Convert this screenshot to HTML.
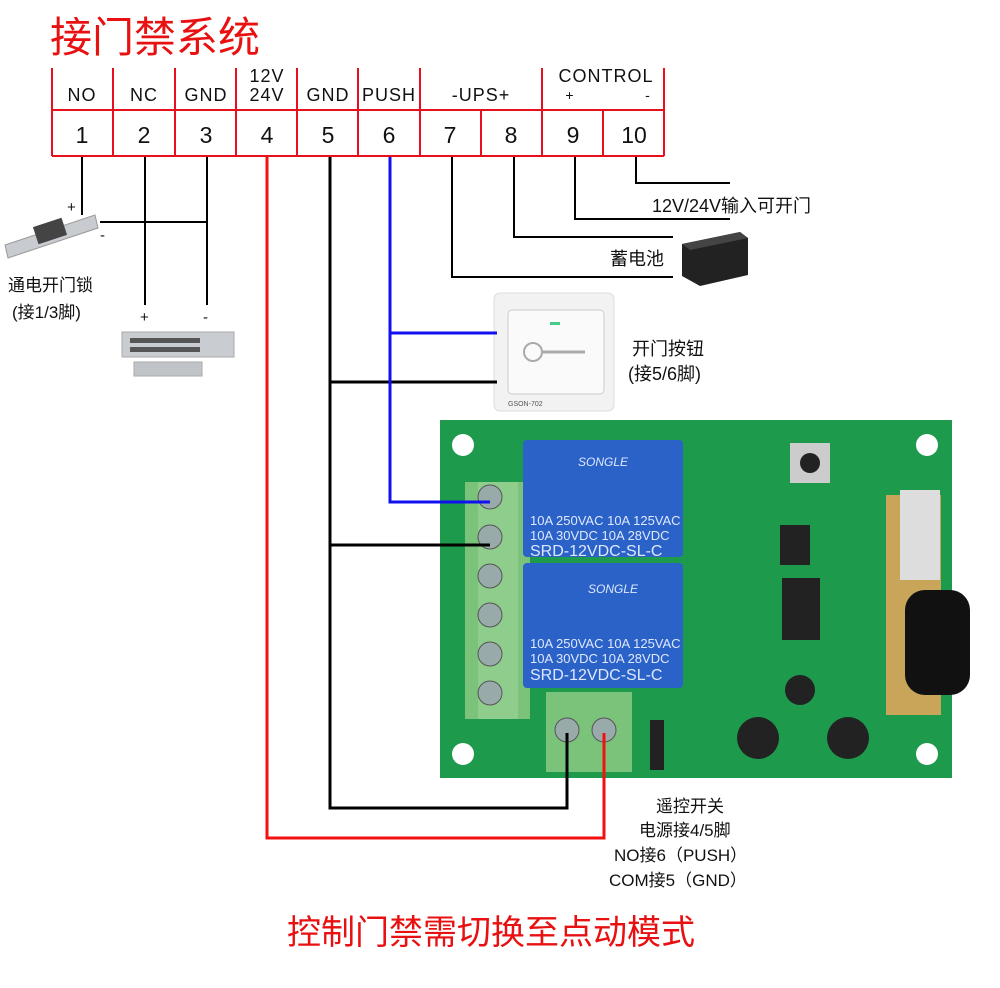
<!DOCTYPE html>
<html><head><meta charset="utf-8"><style>
body{margin:0;background:#fff;}
svg{display:block;font-family:"Liberation Sans","Noto Sans CJK SC",sans-serif;}
</style></head><body>
<svg width="1000" height="988" viewBox="0 0 1000 988" xmlns="http://www.w3.org/2000/svg">
<text x="50" y="52" font-size="42" fill="#e81010">接门禁系统</text>
<g stroke="#e8101c" stroke-width="2" fill="none">
<line x1="52" y1="110" x2="664" y2="110"/>
<line x1="52" y1="156" x2="664" y2="156"/>
<line x1="52" y1="68" x2="52" y2="156"/>
<line x1="113" y1="68" x2="113" y2="156"/>
<line x1="175" y1="68" x2="175" y2="156"/>
<line x1="236" y1="68" x2="236" y2="156"/>
<line x1="297" y1="68" x2="297" y2="156"/>
<line x1="358" y1="68" x2="358" y2="156"/>
<line x1="420" y1="68" x2="420" y2="156"/>
<line x1="481" y1="110" x2="481" y2="156"/>
<line x1="542" y1="68" x2="542" y2="156"/>
<line x1="603" y1="110" x2="603" y2="156"/>
<line x1="664" y1="68" x2="664" y2="156"/>
</g>
<g font-size="18" fill="#111" text-anchor="middle" letter-spacing="1">
<text x="82" y="101">NO</text><text x="144" y="101">NC</text><text x="206" y="101">GND</text>
<text x="267" y="82">12V</text><text x="267" y="101">24V</text>
<text x="328" y="101">GND</text><text x="389" y="101">PUSH</text>
<text x="481" y="101">-UPS+</text>
<text x="606" y="82">CONTROL</text><text x="570" y="100" font-size="14">+</text><text x="648" y="100" font-size="14">-</text>
</g>
<g font-size="23" fill="#111" text-anchor="middle">
<text x="82" y="143">1</text><text x="144" y="143">2</text><text x="206" y="143">3</text><text x="267" y="143">4</text><text x="328" y="143">5</text><text x="389" y="143">6</text><text x="450" y="143">7</text><text x="511" y="143">8</text><text x="573" y="143">9</text><text x="634" y="143">10</text>
</g>
<g stroke="#000" stroke-width="2" fill="none">
<line x1="82" y1="157" x2="82" y2="215"/>
<line x1="145" y1="157" x2="145" y2="305"/>
<line x1="207" y1="157" x2="207" y2="305"/>
<line x1="100" y1="222" x2="207" y2="222"/>
<polyline points="452,157 452,277 673,277"/>
<polyline points="514,157 514,237 673,237"/>
<polyline points="575,157 575,219 730,219"/>
<polyline points="636,157 636,183 730,183"/>
</g>
<g font-size="15" fill="#111">
<text x="67" y="212">+</text><text x="100" y="240">-</text>
<text x="140" y="322">+</text><text x="203" y="322">-</text>
<text x="8" y="291" font-size="17">通电开门锁</text>
<text x="12" y="318" font-size="17">(接1/3脚)</text>
<text x="652" y="212" font-size="18">12V/24V输入可开门</text>
<text x="610" y="265" font-size="18">蓄电池</text>
<text x="632" y="355" font-size="18">开门按钮</text>
<text x="628" y="380" font-size="18">(接5/6脚)</text>
<text x="656" y="812" font-size="17">遥控开关</text>
<text x="639" y="836" font-size="17">电源接4/5脚</text>
<text x="614" y="861" font-size="17">NO接6（PUSH）</text>
<text x="609" y="886" font-size="17">COM接5（GND）</text>
</g>
<text x="287" y="944" font-size="34" fill="#e81010">控制门禁需切换至点动模式</text>
<g>
<polygon points="5,245 95,215 98,228 8,258" fill="#c8ccd0" stroke="#999"/>
<rect x="35" y="222" width="30" height="18" fill="#444" transform="rotate(-18 50 231)"/>
<rect x="122" y="332" width="112" height="25" fill="#c9ccd0" stroke="#aaa"/>
<rect x="130" y="338" width="70" height="5" fill="#555"/><rect x="130" y="347" width="70" height="5" fill="#555"/>
<rect x="134" y="362" width="68" height="14" fill="#c0c4c8" stroke="#aaa"/>
</g>
<polygon points="682,244 740,232 748,238 748,275 700,286 682,276" fill="#222"/>
<polygon points="682,244 740,232 748,238 690,250" fill="#444"/>
<rect x="494" y="293" width="120" height="118" rx="6" fill="#f2f2f2" stroke="#ddd"/>
<rect x="508" y="310" width="96" height="84" rx="4" fill="#fafafa" stroke="#ccc"/>
<circle cx="533" cy="352" r="9" fill="none" stroke="#aaa" stroke-width="2"/>
<line x1="542" y1="352" x2="585" y2="352" stroke="#aaa" stroke-width="3"/>
<rect x="550" y="322" width="10" height="3" fill="#4c8"/>
<text x="508" y="406" font-size="7" fill="#555">GSON-702</text>
<rect x="440" y="420" width="512" height="358" fill="#1e9a4c"/>
<g fill="#fff"><circle cx="463" cy="445" r="11"/><circle cx="927" cy="445" r="11"/><circle cx="463" cy="754" r="11"/><circle cx="927" cy="754" r="11"/></g>
<rect x="465" y="482" width="65" height="237" fill="#7bc27a"/>
<rect x="478" y="482" width="40" height="237" fill="#8fcd8c"/>
<g fill="#9aa" stroke="#555"><circle cx="490" cy="497" r="12"/><circle cx="490" cy="537" r="12"/><circle cx="490" cy="576" r="12"/><circle cx="490" cy="615" r="12"/><circle cx="490" cy="654" r="12"/><circle cx="490" cy="693" r="12"/></g>
<rect x="523" y="440" width="160" height="117" rx="4" fill="#2a62c8"/>
<rect x="523" y="563" width="160" height="125" rx="4" fill="#2a62c8"/>
<g fill="#dfe8ff" font-size="13"><text x="530" y="525">10A 250VAC  10A 125VAC</text><text x="530" y="540">10A 30VDC  10A 28VDC</text><text x="530" y="556" font-size="16">SRD-12VDC-SL-C</text>
<text x="530" y="648">10A 250VAC  10A 125VAC</text><text x="530" y="663">10A 30VDC  10A 28VDC</text><text x="530" y="680" font-size="16">SRD-12VDC-SL-C</text>
<text x="578" y="466" font-style="italic" font-size="12">SONGLE</text><text x="588" y="593" font-style="italic" font-size="12">SONGLE</text></g>
<rect x="546" y="692" width="86" height="80" fill="#7bc27a"/>
<circle cx="567" cy="730" r="12" fill="#9aa" stroke="#555"/><circle cx="604" cy="730" r="12" fill="#9aa" stroke="#555"/>
<rect x="790" y="443" width="40" height="40" fill="#ccc"/><circle cx="810" cy="463" r="10" fill="#222"/>
<rect x="780" y="525" width="30" height="40" fill="#222"/><rect x="782" y="578" width="38" height="62" fill="#222"/>
<rect x="886" y="495" width="55" height="220" fill="#c9a55a"/>
<rect x="900" y="490" width="40" height="90" fill="#ddd"/>
<rect x="905" y="590" width="65" height="105" rx="20" fill="#111"/>
<circle cx="758" cy="738" r="21" fill="#222"/><circle cx="848" cy="738" r="21" fill="#222"/>
<circle cx="800" cy="690" r="15" fill="#222"/>
<rect x="650" y="720" width="14" height="50" fill="#222"/>
<!-- thick wires on top -->
<polyline points="267,157 267,838 604,838 604,733" stroke="#f21010" stroke-width="3" fill="none"/>
<polyline points="330,157 330,808 567,808 567,733" stroke="#000" stroke-width="3" fill="none"/>
<line x1="330" y1="382" x2="497" y2="382" stroke="#000" stroke-width="3"/>
<line x1="330" y1="545" x2="490" y2="545" stroke="#000" stroke-width="3"/>
<polyline points="390,157 390,502 490,502" stroke="#1010f0" stroke-width="3" fill="none"/>
<line x1="390" y1="333" x2="497" y2="333" stroke="#1010f0" stroke-width="3"/>
</svg>
</body></html>
